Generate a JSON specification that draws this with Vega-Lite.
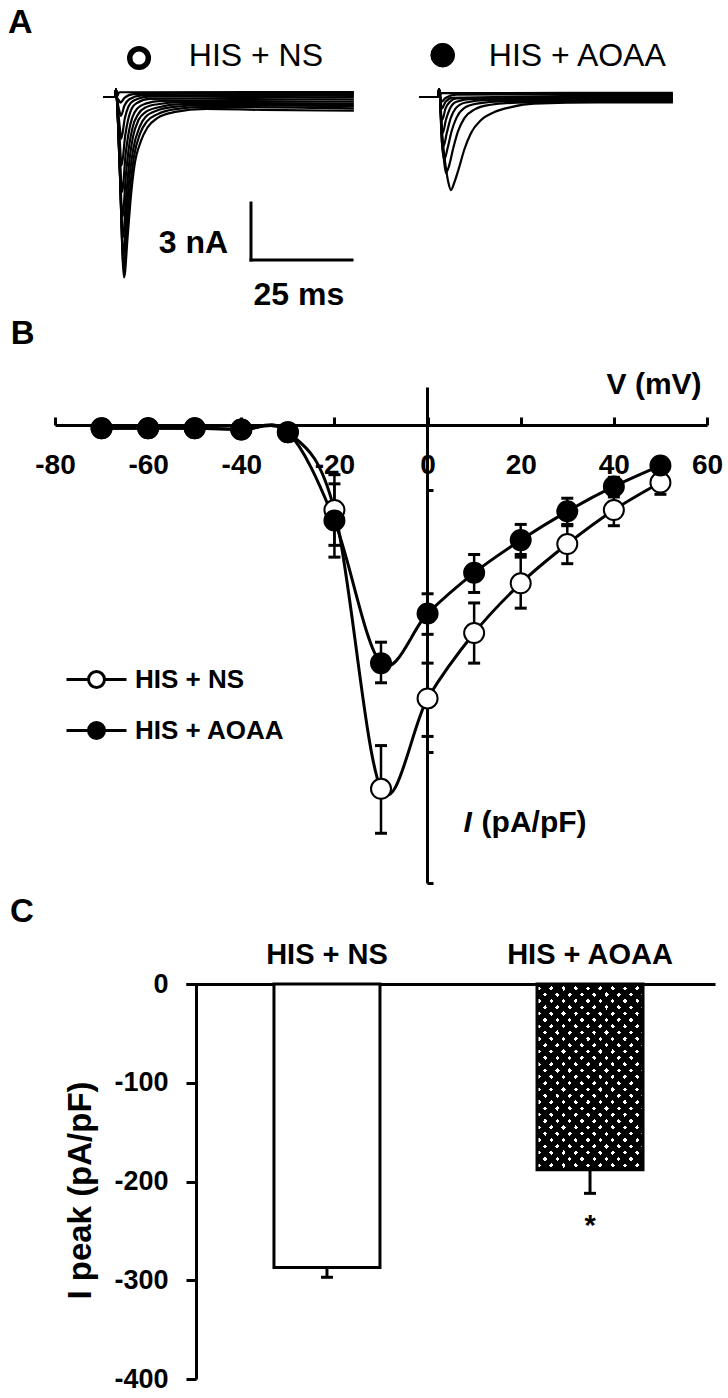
{
 "$schema": "https://vega.github.io/schema/vega-lite/v6.json",
 "padding": {"left": 7, "top": 0, "right": 0, "bottom": 0},
 "background": "white",
 "config": {
  "view": {"stroke": null},
  "font": "Liberation Sans",
  "axis": {"domainColor": "black", "tickColor": "black", "labelColor": "black", "titleColor": "black", "grid": false, "labelFont": "Liberation Sans", "titleFont": "Liberation Sans"},
  "legend": {"labelFont": "Liberation Sans"},
  "text": {"font": "Liberation Sans", "color": "black"},
  "title": {"font": "Liberation Sans", "color": "black"}
 },
 "datasets": {
  "traces": [
   {"g":"NS","k":1,"t":0.5,"i":0},{"g":"NS","k":1,"t":3.5,"i":0},{"g":"NS","k":1,"t":3.7,"i":0.4},{"g":"NS","k":1,"t":3.9,"i":0},{"g":"NS","k":1,"t":4.6,"i":-3.5},{"g":"NS","k":1,"t":5.7,"i":-9.5},{"g":"NS","k":1,"t":6.6,"i":-7.3},{"g":"NS","k":1,"t":7.4,"i":-5.2},{"g":"NS","k":1,"t":8.2,"i":-3.7},{"g":"NS","k":1,"t":9.9,"i":-2.3},{"g":"NS","k":1,"t":11.5,"i":-1.6},{"g":"NS","k":1,"t":14,"i":-1.1},{"g":"NS","k":1,"t":18,"i":-0.8},{"g":"NS","k":1,"t":26,"i":-0.62},{"g":"NS","k":1,"t":40,"i":-0.68},{"g":"NS","k":1,"t":62.5,"i":-0.72},
   {"g":"NS","k":2,"t":0.5,"i":0},{"g":"NS","k":2,"t":3.5,"i":0},{"g":"NS","k":2,"t":3.7,"i":0.4},{"g":"NS","k":2,"t":3.9,"i":0},{"g":"NS","k":2,"t":4.6,"i":-3.6},{"g":"NS","k":2,"t":5.6,"i":-9.0},{"g":"NS","k":2,"t":6.5,"i":-6.6},{"g":"NS","k":2,"t":7.3,"i":-4.6},{"g":"NS","k":2,"t":8.1,"i":-3.2},{"g":"NS","k":2,"t":9.7,"i":-1.9},{"g":"NS","k":2,"t":11.3,"i":-1.3},{"g":"NS","k":2,"t":14,"i":-0.9},{"g":"NS","k":2,"t":18,"i":-0.65},{"g":"NS","k":2,"t":26,"i":-0.52},{"g":"NS","k":2,"t":62.5,"i":-0.6},
   {"g":"NS","k":3,"t":0.5,"i":0},{"g":"NS","k":3,"t":3.5,"i":0},{"g":"NS","k":3,"t":3.7,"i":0.4},{"g":"NS","k":3,"t":3.9,"i":0},{"g":"NS","k":3,"t":4.6,"i":-3.6},{"g":"NS","k":3,"t":5.5,"i":-8.3},{"g":"NS","k":3,"t":6.4,"i":-5.8},{"g":"NS","k":3,"t":7.2,"i":-3.9},{"g":"NS","k":3,"t":8,"i":-2.7},{"g":"NS","k":3,"t":9.5,"i":-1.6},{"g":"NS","k":3,"t":11,"i":-1.05},{"g":"NS","k":3,"t":14,"i":-0.7},{"g":"NS","k":3,"t":18,"i":-0.52},{"g":"NS","k":3,"t":26,"i":-0.42},{"g":"NS","k":3,"t":62.5,"i":-0.48},
   {"g":"NS","k":4,"t":0.5,"i":0},{"g":"NS","k":4,"t":3.5,"i":0},{"g":"NS","k":4,"t":3.7,"i":0.4},{"g":"NS","k":4,"t":3.9,"i":0},{"g":"NS","k":4,"t":4.6,"i":-3.5},{"g":"NS","k":4,"t":5.4,"i":-7.4},{"g":"NS","k":4,"t":6.3,"i":-5.0},{"g":"NS","k":4,"t":7.1,"i":-3.2},{"g":"NS","k":4,"t":7.9,"i":-2.1},{"g":"NS","k":4,"t":9.3,"i":-1.2},{"g":"NS","k":4,"t":11,"i":-0.8},{"g":"NS","k":4,"t":14,"i":-0.55},{"g":"NS","k":4,"t":20,"i":-0.38},{"g":"NS","k":4,"t":62.5,"i":-0.36},
   {"g":"NS","k":5,"t":0.5,"i":0},{"g":"NS","k":5,"t":3.5,"i":0},{"g":"NS","k":5,"t":3.7,"i":0.4},{"g":"NS","k":5,"t":3.9,"i":0},{"g":"NS","k":5,"t":4.6,"i":-3.2},{"g":"NS","k":5,"t":5.3,"i":-6.3},{"g":"NS","k":5,"t":6.2,"i":-4.0},{"g":"NS","k":5,"t":7,"i":-2.5},{"g":"NS","k":5,"t":7.8,"i":-1.6},{"g":"NS","k":5,"t":9.2,"i":-0.9},{"g":"NS","k":5,"t":11,"i":-0.55},{"g":"NS","k":5,"t":14,"i":-0.38},{"g":"NS","k":5,"t":20,"i":-0.27},{"g":"NS","k":5,"t":62.5,"i":-0.24},
   {"g":"NS","k":6,"t":0.5,"i":0},{"g":"NS","k":6,"t":3.5,"i":0},{"g":"NS","k":6,"t":3.7,"i":0.4},{"g":"NS","k":6,"t":3.9,"i":0},{"g":"NS","k":6,"t":4.6,"i":-2.8},{"g":"NS","k":6,"t":5.2,"i":-5.0},{"g":"NS","k":6,"t":6.1,"i":-3.0},{"g":"NS","k":6,"t":6.9,"i":-1.8},{"g":"NS","k":6,"t":7.7,"i":-1.1},{"g":"NS","k":6,"t":9,"i":-0.6},{"g":"NS","k":6,"t":11,"i":-0.35},{"g":"NS","k":6,"t":15,"i":-0.2},{"g":"NS","k":6,"t":62.5,"i":-0.12},
   {"g":"NS","k":7,"t":0.5,"i":0},{"g":"NS","k":7,"t":3.5,"i":0},{"g":"NS","k":7,"t":3.7,"i":0.4},{"g":"NS","k":7,"t":3.9,"i":0},{"g":"NS","k":7,"t":4.6,"i":-2.2},{"g":"NS","k":7,"t":5.1,"i":-3.6},{"g":"NS","k":7,"t":6,"i":-2.0},{"g":"NS","k":7,"t":6.8,"i":-1.1},{"g":"NS","k":7,"t":7.6,"i":-0.6},{"g":"NS","k":7,"t":9,"i":-0.3},{"g":"NS","k":7,"t":12,"i":-0.1},{"g":"NS","k":7,"t":62.5,"i":0},
   {"g":"NS","k":8,"t":0.5,"i":0},{"g":"NS","k":8,"t":3.5,"i":0},{"g":"NS","k":8,"t":3.7,"i":0.4},{"g":"NS","k":8,"t":3.9,"i":0},{"g":"NS","k":8,"t":4.6,"i":-1.5},{"g":"NS","k":8,"t":5.0,"i":-2.2},{"g":"NS","k":8,"t":5.9,"i":-1.1},{"g":"NS","k":8,"t":6.8,"i":-0.5},{"g":"NS","k":8,"t":8,"i":-0.2},{"g":"NS","k":8,"t":12,"i":0.02},{"g":"NS","k":8,"t":62.5,"i":0.08},
   {"g":"NS","k":9,"t":0.5,"i":0},{"g":"NS","k":9,"t":3.5,"i":0},{"g":"NS","k":9,"t":3.7,"i":0.4},{"g":"NS","k":9,"t":3.9,"i":0},{"g":"NS","k":9,"t":4.5,"i":-0.7},{"g":"NS","k":9,"t":4.9,"i":-1.0},{"g":"NS","k":9,"t":5.8,"i":-0.45},{"g":"NS","k":9,"t":7,"i":-0.12},{"g":"NS","k":9,"t":10,"i":0.08},{"g":"NS","k":9,"t":62.5,"i":0.15},
   {"g":"NS","k":10,"t":0.5,"i":0},{"g":"NS","k":10,"t":3.5,"i":0},{"g":"NS","k":10,"t":3.7,"i":0.4},{"g":"NS","k":10,"t":3.9,"i":0},{"g":"NS","k":10,"t":4.5,"i":-0.2},{"g":"NS","k":10,"t":4.8,"i":-0.3},{"g":"NS","k":10,"t":5.8,"i":-0.05},{"g":"NS","k":10,"t":8,"i":0.15},{"g":"NS","k":10,"t":62.5,"i":0.22},
   {"g":"NS","k":11,"t":0.5,"i":0},{"g":"NS","k":11,"t":3.5,"i":0},{"g":"NS","k":11,"t":3.7,"i":0.4},{"g":"NS","k":11,"t":3.9,"i":0},{"g":"NS","k":11,"t":4.5,"i":0.25},{"g":"NS","k":11,"t":62.5,"i":0.26},
   {"g":"AO","k":1,"t":0.75,"i":0},{"g":"AO","k":1,"t":5.4,"i":0},{"g":"AO","k":1,"t":5.7,"i":0.42},{"g":"AO","k":1,"t":5.95,"i":0},{"g":"AO","k":1,"t":6.5,"i":-2.0},{"g":"AO","k":1,"t":7.3,"i":-3.6},{"g":"AO","k":1,"t":8.0,"i":-4.5},{"g":"AO","k":1,"t":8.65,"i":-4.9},{"g":"AO","k":1,"t":9.47,"i":-4.5},{"g":"AO","k":1,"t":10.7,"i":-3.68},{"g":"AO","k":1,"t":11.9,"i":-2.79},{"g":"AO","k":1,"t":13.6,"i":-1.89},{"g":"AO","k":1,"t":16.1,"i":-1.21},{"g":"AO","k":1,"t":19.4,"i":-0.79},{"g":"AO","k":1,"t":23.5,"i":-0.53},{"g":"AO","k":1,"t":29.2,"i":-0.35},{"g":"AO","k":1,"t":45,"i":-0.28},{"g":"AO","k":1,"t":63.5,"i":-0.28},
   {"g":"AO","k":2,"t":0.75,"i":0},{"g":"AO","k":2,"t":5.4,"i":0},{"g":"AO","k":2,"t":5.7,"i":0.42},{"g":"AO","k":2,"t":5.95,"i":0},{"g":"AO","k":2,"t":6.3,"i":-2.0},{"g":"AO","k":2,"t":6.9,"i":-3.3},{"g":"AO","k":2,"t":7.4,"i":-4.0},{"g":"AO","k":2,"t":8.2,"i":-3.6},{"g":"AO","k":2,"t":9.2,"i":-2.7},{"g":"AO","k":2,"t":10.4,"i":-1.8},{"g":"AO","k":2,"t":12,"i":-1.1},{"g":"AO","k":2,"t":14.5,"i":-0.65},{"g":"AO","k":2,"t":18,"i":-0.42},{"g":"AO","k":2,"t":25,"i":-0.3},{"g":"AO","k":2,"t":63.5,"i":-0.22},
   {"g":"AO","k":3,"t":0.75,"i":0},{"g":"AO","k":3,"t":5.4,"i":0},{"g":"AO","k":3,"t":5.7,"i":0.42},{"g":"AO","k":3,"t":5.95,"i":0},{"g":"AO","k":3,"t":6.3,"i":-2.0},{"g":"AO","k":3,"t":7.0,"i":-3.3},{"g":"AO","k":3,"t":7.8,"i":-2.7},{"g":"AO","k":3,"t":8.8,"i":-1.8},{"g":"AO","k":3,"t":10,"i":-1.1},{"g":"AO","k":3,"t":11.8,"i":-0.6},{"g":"AO","k":3,"t":15,"i":-0.35},{"g":"AO","k":3,"t":22,"i":-0.22},{"g":"AO","k":3,"t":63.5,"i":-0.16},
   {"g":"AO","k":4,"t":0.75,"i":0},{"g":"AO","k":4,"t":5.4,"i":0},{"g":"AO","k":4,"t":5.7,"i":0.42},{"g":"AO","k":4,"t":5.95,"i":0},{"g":"AO","k":4,"t":6.3,"i":-1.7},{"g":"AO","k":4,"t":6.8,"i":-2.6},{"g":"AO","k":4,"t":7.6,"i":-1.9},{"g":"AO","k":4,"t":8.6,"i":-1.1},{"g":"AO","k":4,"t":9.8,"i":-0.6},{"g":"AO","k":4,"t":12,"i":-0.3},{"g":"AO","k":4,"t":18,"i":-0.15},{"g":"AO","k":4,"t":63.5,"i":-0.1},
   {"g":"AO","k":5,"t":0.75,"i":0},{"g":"AO","k":5,"t":5.4,"i":0},{"g":"AO","k":5,"t":5.7,"i":0.42},{"g":"AO","k":5,"t":5.95,"i":0},{"g":"AO","k":5,"t":6.2,"i":-1.2},{"g":"AO","k":5,"t":6.6,"i":-1.9},{"g":"AO","k":5,"t":7.4,"i":-1.2},{"g":"AO","k":5,"t":8.4,"i":-0.6},{"g":"AO","k":5,"t":10,"i":-0.25},{"g":"AO","k":5,"t":14,"i":-0.1},{"g":"AO","k":5,"t":63.5,"i":-0.04},
   {"g":"AO","k":6,"t":0.75,"i":0},{"g":"AO","k":6,"t":5.4,"i":0},{"g":"AO","k":6,"t":5.7,"i":0.42},{"g":"AO","k":6,"t":5.95,"i":0},{"g":"AO","k":6,"t":6.1,"i":-0.8},{"g":"AO","k":6,"t":6.5,"i":-1.2},{"g":"AO","k":6,"t":7.3,"i":-0.6},{"g":"AO","k":6,"t":8.4,"i":-0.25},{"g":"AO","k":6,"t":10,"i":-0.08},{"g":"AO","k":6,"t":63.5,"i":0.03},
   {"g":"AO","k":7,"t":0.75,"i":0},{"g":"AO","k":7,"t":5.4,"i":0},{"g":"AO","k":7,"t":5.7,"i":0.42},{"g":"AO","k":7,"t":5.95,"i":0},{"g":"AO","k":7,"t":6.4,"i":-0.6},{"g":"AO","k":7,"t":7.3,"i":-0.25},{"g":"AO","k":7,"t":9,"i":-0.05},{"g":"AO","k":7,"t":63.5,"i":0.1},
   {"g":"AO","k":8,"t":0.75,"i":0},{"g":"AO","k":8,"t":5.4,"i":0},{"g":"AO","k":8,"t":5.7,"i":0.42},{"g":"AO","k":8,"t":5.95,"i":0},{"g":"AO","k":8,"t":6.3,"i":-0.25},{"g":"AO","k":8,"t":7.3,"i":-0.05},{"g":"AO","k":8,"t":10,"i":0.12},{"g":"AO","k":8,"t":63.5,"i":0.16},
   {"g":"AO","k":9,"t":0.75,"i":0},{"g":"AO","k":9,"t":5.4,"i":0},{"g":"AO","k":9,"t":5.7,"i":0.42},{"g":"AO","k":9,"t":5.95,"i":0},{"g":"AO","k":9,"t":6.2,"i":0.2},{"g":"AO","k":9,"t":63.5,"i":0.22}
  ],
  "iv": [
   {"s":"HIS + NS","v":-70,"m":-2.5},{"s":"HIS + NS","v":-60,"m":-2.5},{"s":"HIS + NS","v":-50,"m":-2.5},{"s":"HIS + NS","v":-40,"m":-3.5},{"s":"HIS + NS","v":-30,"m":-5.5},
   {"s":"HIS + NS","v":-20,"m":-65,"lo":-92,"hi":-38},{"s":"HIS + NS","v":-10,"m":-278,"lo":-312,"hi":-245},{"s":"HIS + NS","v":0,"m":-209,"lo":-238,"hi":-182},{"s":"HIS + NS","v":10,"m":-159,"lo":-182,"hi":-136},{"s":"HIS + NS","v":20,"m":-121,"lo":-140,"hi":-101},{"s":"HIS + NS","v":30,"m":-91,"lo":-106,"hi":-76},{"s":"HIS + NS","v":40,"m":-65,"lo":-77,"hi":-53},{"s":"HIS + NS","v":50,"m":-44,"lo":-53,"hi":-35},
   {"s":"HIS + AOAA","v":-70,"m":-2.5},{"s":"HIS + AOAA","v":-60,"m":-2.5},{"s":"HIS + AOAA","v":-50,"m":-2.5},{"s":"HIS + AOAA","v":-40,"m":-3.5},{"s":"HIS + AOAA","v":-30,"m":-5.5},
   {"s":"HIS + AOAA","v":-20,"m":-73,"lo":-101,"hi":-45},{"s":"HIS + AOAA","v":-10,"m":-182,"lo":-197,"hi":-166},{"s":"HIS + AOAA","v":0,"m":-144,"lo":-160,"hi":-129},{"s":"HIS + AOAA","v":10,"m":-113,"lo":-128,"hi":-99},{"s":"HIS + AOAA","v":20,"m":-88,"lo":-99,"hi":-76},{"s":"HIS + AOAA","v":30,"m":-66,"lo":-77,"hi":-56},{"s":"HIS + AOAA","v":40,"m":-47,"lo":-55,"hi":-40},{"s":"HIS + AOAA","v":50,"m":-31,"lo":-36,"hi":-27}
  ],
  "peak": [
   {"g":"HIS + NS","m":-287,"lo":-297,"sig":""},
   {"g":"HIS + AOAA","m":-188,"lo":-212,"sig":"*"}
  ]
 },
 "spacing": 0,
 "bounds": "flush",
 "vconcat": [
  {
   "width": 624, "height": 387,
   "resolve": {"scale": {"x": "independent"}},
   "layer": [
    {
     "layer": [
      {"data": {"name": "traces"}, "transform": [{"filter": "datum.g === 'NS'"}],
       "mark": {"type": "line", "interpolate": "monotone", "stroke": "black", "strokeWidth": 2.2},
       "encoding": {
        "x": {"field": "t", "type": "quantitative", "scale": {"domain": [0, 64.26], "range": [46, 306], "nice": false, "zero": false}, "axis": null},
        "y": {"field": "i", "type": "quantitative", "scale": {"domain": [-15.263, 5.105], "nice": false, "zero": false}, "axis": null},
        "detail": {"field": "k"}}},
      {"data": {"values": [{}]},
       "mark": {"type": "point", "shape": "circle", "filled": false, "stroke": "black", "strokeWidth": 5.5, "size": 346, "opacity": 1},
       "encoding": {"x": {"datum": 9.4, "axis": null}, "y": {"datum": 2.05, "axis": null}}},
      {"data": {"values": [{}]},
       "mark": {"type": "text", "text": "HIS + NS", "align": "left", "baseline": "middle", "fontSize": 32},
       "encoding": {"x": {"datum": 21.7, "axis": null}, "y": {"datum": 2.16, "axis": null}}},
      {"data": {"values": [{}]},
       "mark": {"type": "rule", "stroke": "black", "strokeWidth": 3, "strokeCap": "square"},
       "encoding": {"x": {"datum": 37.07, "axis": null}, "y": {"datum": -5.58, "axis": null}, "y2": {"datum": -8.58}}},
      {"data": {"values": [{}]},
       "mark": {"type": "rule", "stroke": "black", "strokeWidth": 3, "strokeCap": "square"},
       "encoding": {"x": {"datum": 37.07, "axis": null}, "x2": {"datum": 62.04}, "y": {"datum": -8.58, "axis": null}}},
      {"data": {"values": [{}]},
       "mark": {"type": "text", "text": "3 nA", "align": "right", "baseline": "middle", "fontSize": 32, "fontWeight": "bold"},
       "encoding": {"x": {"datum": 31.4, "axis": null}, "y": {"datum": -7.68, "axis": null}}},
      {"data": {"values": [{}]},
       "mark": {"type": "text", "text": "25 ms", "align": "center", "baseline": "middle", "fontSize": 32, "fontWeight": "bold"},
       "encoding": {"x": {"datum": 48.9, "axis": null}, "y": {"datum": -10.42, "axis": null}}},
      {"data": {"values": [{}]},
       "mark": {"type": "text", "text": "A", "align": "left", "baseline": "middle", "fontSize": 34, "fontWeight": "bold"},
       "encoding": {"x": {"datum": -22.99, "axis": null}, "y": {"datum": 3.92, "axis": null}}}
     ]
    },
    {
     "layer": [
      {"data": {"name": "traces"}, "transform": [{"filter": "datum.g === 'AO'"}],
       "mark": {"type": "line", "interpolate": "monotone", "stroke": "black", "strokeWidth": 2.2},
       "encoding": {
        "x": {"field": "t", "type": "quantitative", "scale": {"domain": [0, 65], "range": [361, 624], "nice": false, "zero": false}, "axis": null},
        "y": {"field": "i", "type": "quantitative", "axis": null},
        "detail": {"field": "k"}}},
      {"data": {"values": [{}]},
       "mark": {"type": "point", "shape": "circle", "filled": true, "fill": "black", "stroke": "black", "strokeWidth": 1, "size": 560, "opacity": 1},
       "encoding": {"x": {"datum": 6.6, "axis": null}, "y": {"datum": 2.2, "axis": null}}},
      {"data": {"values": [{}]},
       "mark": {"type": "text", "text": "HIS + AOAA", "align": "left", "baseline": "middle", "fontSize": 32},
       "encoding": {"x": {"datum": 18.0, "axis": null}, "y": {"datum": 2.16, "axis": null}}}
     ]
    }
   ]
  },
  {
   "width": 652, "height": 496,
   "data": {"name": "iv"},
   "layer": [
    {"mark": {"type": "line", "interpolate": "cardinal", "stroke": "black", "strokeWidth": 3},
     "encoding": {
      "x": {"field": "v", "type": "quantitative", "scale": {"domain": [-80, 60], "nice": false, "zero": false},
            "axis": {"orient": "bottom", "offset": -458, "values": [-80, -60, -40, -20, 0, 20, 40, 60], "tickSize": -8, "tickWidth": 3, "domainWidth": 3, "labelPadding": 34, "labelFontSize": 28, "labelFontWeight": "bold", "labelFlush": false, "labelOverlap": false, "labelExpr": "replace(datum.label, '\u2212', '-')", "title": null}},
      "y": {"field": "m", "type": "quantitative", "scale": {"domain": [-350, 29], "nice": false, "zero": false},
            "axis": {"orient": "right", "offset": -280, "values": [-50, -150, -250, -350], "tickSize": 6, "tickWidth": 3, "domainWidth": 3, "labels": false, "title": null}},
      "detail": {"field": "s"}}},
    {"mark": {"type": "rule", "stroke": "black", "strokeWidth": 2.5},
     "encoding": {"x": {"field": "v", "type": "quantitative", "title": null}, "y": {"field": "lo", "type": "quantitative", "title": null}, "y2": {"field": "hi"}}},
    {"mark": {"type": "tick", "orient": "horizontal", "size": 12, "thickness": 3, "color": "black", "opacity": 1},
     "encoding": {"x": {"field": "v", "type": "quantitative", "title": null}, "y": {"field": "lo", "type": "quantitative", "title": null}}},
    {"mark": {"type": "tick", "orient": "horizontal", "size": 12, "thickness": 3, "color": "black", "opacity": 1},
     "encoding": {"x": {"field": "v", "type": "quantitative", "title": null}, "y": {"field": "hi", "type": "quantitative", "title": null}}},
    {"mark": {"type": "point", "shape": "circle", "filled": true, "size": 400, "stroke": "black", "strokeWidth": 2, "opacity": 1},
     "encoding": {
      "x": {"field": "v", "type": "quantitative", "title": null},
      "y": {"field": "m", "type": "quantitative", "title": null},
      "fill": {"field": "s", "type": "nominal", "scale": {"domain": ["HIS + NS", "HIS + AOAA"], "range": ["white", "black"]},
               "legend": {"orient": "none", "legendX": 25, "legendY": 663, "title": null, "padding": 0,
                          "symbolType": "M-2,0H-0.533M0.533,0H2M0.533,0A0.533,0.533,0,1,1,-0.533,0A0.533,0.533,0,1,1,0.533,0Z",
                          "symbolSize": 900, "symbolStrokeColor": "black", "symbolStrokeWidth": 3,
                          "labelFontSize": 26, "labelFontWeight": "bold", "labelOffset": 22, "rowPadding": 20, "labelColor": "black",
                          "encode": {"symbols": {"update": {"stroke": {"value": "black"}, "strokeWidth": {"value": 3}, "opacity": {"value": 1}}}}}}}},
    {"data": {"values": [{}]},
     "mark": {"type": "text", "text": "V (mV)", "align": "right", "baseline": "middle", "fontSize": 30, "fontWeight": "bold"},
     "encoding": {"x": {"datum": 58.84, "title": null}, "y": {"datum": 30.6, "title": null}}},
    {"data": {"values": [{}]},
     "mark": {"type": "text", "text": "I", "align": "left", "baseline": "middle", "fontSize": 30, "fontWeight": "bold", "fontStyle": "italic"},
     "encoding": {"x": {"datum": 7.73, "title": null}, "y": {"datum": -304, "title": null}}},
    {"data": {"values": [{}]},
     "mark": {"type": "text", "text": "(pA/pF)", "align": "left", "baseline": "middle", "fontSize": 30, "fontWeight": "bold"},
     "encoding": {"x": {"datum": 11.6, "title": null}, "y": {"datum": -304, "title": null}}},
    {"data": {"values": [{}]},
     "mark": {"type": "text", "text": "B", "align": "left", "baseline": "middle", "fontSize": 33, "fontWeight": "bold"},
     "encoding": {"x": {"datum": -89.5, "title": null}, "y": {"datum": 69.5, "title": null}}}
   ]
  },
  {
   "width": 660, "height": 496,
   "title": {"text": "C", "anchor": "start", "frame": "group", "dx": -45, "offset": -62, "baseline": "middle", "fontSize": 33, "fontWeight": "bold", "color": "black"},
   "data": {"name": "peak"},
   "layer": [
    {"transform": [{"filter": "datum.g === 'HIS + NS'"}],
     "mark": {"type": "bar", "fill": "white", "stroke": "black", "strokeWidth": 3},
     "encoding": {
      "x": {"field": "g", "type": "nominal", "sort": null, "title": null,
            "scale": {"domain": ["HIS + NS", "HIS + AOAA"], "range": [131, 660], "paddingInner": 0.597, "paddingOuter": 0.304, "align": 0.55},
            "axis": {"orient": "top", "offset": -101, "ticks": false, "domainWidth": 3, "labelFontSize": 29, "labelFontWeight": "bold", "labelPadding": 15, "labelAngle": 0}},
      "y": {"field": "m", "type": "quantitative", "title": "I peak (pA/pF)",
            "scale": {"domain": [-400, 0], "range": [496, 101], "nice": false},
            "axis": {"orient": "left", "offset": -141, "values": [0, -100, -200, -300, -400], "tickSize": 10, "tickWidth": 3, "domainWidth": 3, "labelFontSize": 27, "labelFontWeight": "bold", "labelPadding": 18, "labelOverlap": false, "labelExpr": "replace(datum.label, '\u2212', '-')", "titleFontSize": 33, "titleFontWeight": "bold", "titlePadding": 16, "titleY": 307}}}},
    {"transform": [{"filter": "datum.g === 'HIS + AOAA'"}],
     "mark": {"type": "bar", "strokeWidth": 0,
      "fill": {"gradient": "linear", "x1": 0, "y1": 0, "x2": 0.6936, "y2": 1.18, "stops": [
       {"offset":0,"color":"black"},
       {"offset":0.01394,"color":"black"},{"offset":0.01394,"color":"white"},{"offset":0.02896,"color":"white"},{"offset":0.02896,"color":"black"},
       {"offset":0.05683,"color":"black"},{"offset":0.05683,"color":"white"},{"offset":0.07184,"color":"white"},{"offset":0.07184,"color":"black"},
       {"offset":0.09972,"color":"black"},{"offset":0.09972,"color":"white"},{"offset":0.11473,"color":"white"},{"offset":0.11473,"color":"black"},
       {"offset":0.14261,"color":"black"},{"offset":0.14261,"color":"white"},{"offset":0.15763,"color":"white"},{"offset":0.15763,"color":"black"},
       {"offset":0.18551,"color":"black"},{"offset":0.18551,"color":"white"},{"offset":0.20052,"color":"white"},{"offset":0.20052,"color":"black"},
       {"offset":0.22839,"color":"black"},{"offset":0.22839,"color":"white"},{"offset":0.24341,"color":"white"},{"offset":0.24341,"color":"black"},
       {"offset":0.27129,"color":"black"},{"offset":0.27129,"color":"white"},{"offset":0.28630,"color":"white"},{"offset":0.28630,"color":"black"},
       {"offset":0.31418,"color":"black"},{"offset":0.31418,"color":"white"},{"offset":0.32919,"color":"white"},{"offset":0.32919,"color":"black"},
       {"offset":0.35707,"color":"black"},{"offset":0.35707,"color":"white"},{"offset":0.37208,"color":"white"},{"offset":0.37208,"color":"black"},
       {"offset":0.39996,"color":"black"},{"offset":0.39996,"color":"white"},{"offset":0.41497,"color":"white"},{"offset":0.41497,"color":"black"},
       {"offset":0.44285,"color":"black"},{"offset":0.44285,"color":"white"},{"offset":0.45786,"color":"white"},{"offset":0.45786,"color":"black"},
       {"offset":0.48574,"color":"black"},{"offset":0.48574,"color":"white"},{"offset":0.50075,"color":"white"},{"offset":0.50075,"color":"black"},
       {"offset":0.52863,"color":"black"},{"offset":0.52863,"color":"white"},{"offset":0.54364,"color":"white"},{"offset":0.54364,"color":"black"},
       {"offset":0.57152,"color":"black"},{"offset":0.57152,"color":"white"},{"offset":0.58653,"color":"white"},{"offset":0.58653,"color":"black"},
       {"offset":0.61441,"color":"black"},{"offset":0.61441,"color":"white"},{"offset":0.62943,"color":"white"},{"offset":0.62943,"color":"black"},
       {"offset":0.65730,"color":"black"},{"offset":0.65730,"color":"white"},{"offset":0.67232,"color":"white"},{"offset":0.67232,"color":"black"},
       {"offset":0.70019,"color":"black"},{"offset":0.70019,"color":"white"},{"offset":0.71521,"color":"white"},{"offset":0.71521,"color":"black"},
       {"offset":0.74309,"color":"black"},{"offset":0.74309,"color":"white"},{"offset":0.75810,"color":"white"},{"offset":0.75810,"color":"black"},
       {"offset":0.78598,"color":"black"},{"offset":0.78598,"color":"white"},{"offset":0.80099,"color":"white"},{"offset":0.80099,"color":"black"},
       {"offset":0.82887,"color":"black"},{"offset":0.82887,"color":"white"},{"offset":0.84388,"color":"white"},{"offset":0.84388,"color":"black"},
       {"offset":0.87176,"color":"black"},{"offset":0.87176,"color":"white"},{"offset":0.88677,"color":"white"},{"offset":0.88677,"color":"black"},
       {"offset":0.91465,"color":"black"},{"offset":0.91465,"color":"white"},{"offset":0.92966,"color":"white"},{"offset":0.92966,"color":"black"},
       {"offset":0.95754,"color":"black"},{"offset":0.95754,"color":"white"},{"offset":0.97255,"color":"white"},{"offset":0.97255,"color":"black"},
       {"offset":1,"color":"black"}]}},
     "encoding": {"x": {"field": "g", "type": "nominal", "title": null}, "y": {"field": "m", "type": "quantitative", "title": "I peak (pA/pF)"}}},
    {"transform": [{"filter": "datum.g === 'HIS + AOAA'"}],
     "mark": {"type": "bar", "stroke": "black", "strokeWidth": 3,
      "fill": {"gradient": "linear", "x1": 0, "y1": 1, "x2": 0.6936, "y2": -0.18, "stops": [
       {"offset":0,"color":"black"},
       {"offset":0.01394,"color":"black"},{"offset":0.01394,"color":"rgba(0,0,0,0)"},{"offset":0.02896,"color":"rgba(0,0,0,0)"},{"offset":0.02896,"color":"black"},
       {"offset":0.05683,"color":"black"},{"offset":0.05683,"color":"rgba(0,0,0,0)"},{"offset":0.07184,"color":"rgba(0,0,0,0)"},{"offset":0.07184,"color":"black"},
       {"offset":0.09972,"color":"black"},{"offset":0.09972,"color":"rgba(0,0,0,0)"},{"offset":0.11473,"color":"rgba(0,0,0,0)"},{"offset":0.11473,"color":"black"},
       {"offset":0.14261,"color":"black"},{"offset":0.14261,"color":"rgba(0,0,0,0)"},{"offset":0.15763,"color":"rgba(0,0,0,0)"},{"offset":0.15763,"color":"black"},
       {"offset":0.18551,"color":"black"},{"offset":0.18551,"color":"rgba(0,0,0,0)"},{"offset":0.20052,"color":"rgba(0,0,0,0)"},{"offset":0.20052,"color":"black"},
       {"offset":0.22839,"color":"black"},{"offset":0.22839,"color":"rgba(0,0,0,0)"},{"offset":0.24341,"color":"rgba(0,0,0,0)"},{"offset":0.24341,"color":"black"},
       {"offset":0.27129,"color":"black"},{"offset":0.27129,"color":"rgba(0,0,0,0)"},{"offset":0.28630,"color":"rgba(0,0,0,0)"},{"offset":0.28630,"color":"black"},
       {"offset":0.31418,"color":"black"},{"offset":0.31418,"color":"rgba(0,0,0,0)"},{"offset":0.32919,"color":"rgba(0,0,0,0)"},{"offset":0.32919,"color":"black"},
       {"offset":0.35707,"color":"black"},{"offset":0.35707,"color":"rgba(0,0,0,0)"},{"offset":0.37208,"color":"rgba(0,0,0,0)"},{"offset":0.37208,"color":"black"},
       {"offset":0.39996,"color":"black"},{"offset":0.39996,"color":"rgba(0,0,0,0)"},{"offset":0.41497,"color":"rgba(0,0,0,0)"},{"offset":0.41497,"color":"black"},
       {"offset":0.44285,"color":"black"},{"offset":0.44285,"color":"rgba(0,0,0,0)"},{"offset":0.45786,"color":"rgba(0,0,0,0)"},{"offset":0.45786,"color":"black"},
       {"offset":0.48574,"color":"black"},{"offset":0.48574,"color":"rgba(0,0,0,0)"},{"offset":0.50075,"color":"rgba(0,0,0,0)"},{"offset":0.50075,"color":"black"},
       {"offset":0.52863,"color":"black"},{"offset":0.52863,"color":"rgba(0,0,0,0)"},{"offset":0.54364,"color":"rgba(0,0,0,0)"},{"offset":0.54364,"color":"black"},
       {"offset":0.57152,"color":"black"},{"offset":0.57152,"color":"rgba(0,0,0,0)"},{"offset":0.58653,"color":"rgba(0,0,0,0)"},{"offset":0.58653,"color":"black"},
       {"offset":0.61441,"color":"black"},{"offset":0.61441,"color":"rgba(0,0,0,0)"},{"offset":0.62943,"color":"rgba(0,0,0,0)"},{"offset":0.62943,"color":"black"},
       {"offset":0.65730,"color":"black"},{"offset":0.65730,"color":"rgba(0,0,0,0)"},{"offset":0.67232,"color":"rgba(0,0,0,0)"},{"offset":0.67232,"color":"black"},
       {"offset":0.70019,"color":"black"},{"offset":0.70019,"color":"rgba(0,0,0,0)"},{"offset":0.71521,"color":"rgba(0,0,0,0)"},{"offset":0.71521,"color":"black"},
       {"offset":0.74309,"color":"black"},{"offset":0.74309,"color":"rgba(0,0,0,0)"},{"offset":0.75810,"color":"rgba(0,0,0,0)"},{"offset":0.75810,"color":"black"},
       {"offset":0.78598,"color":"black"},{"offset":0.78598,"color":"rgba(0,0,0,0)"},{"offset":0.80099,"color":"rgba(0,0,0,0)"},{"offset":0.80099,"color":"black"},
       {"offset":0.82887,"color":"black"},{"offset":0.82887,"color":"rgba(0,0,0,0)"},{"offset":0.84388,"color":"rgba(0,0,0,0)"},{"offset":0.84388,"color":"black"},
       {"offset":0.87176,"color":"black"},{"offset":0.87176,"color":"rgba(0,0,0,0)"},{"offset":0.88677,"color":"rgba(0,0,0,0)"},{"offset":0.88677,"color":"black"},
       {"offset":0.91465,"color":"black"},{"offset":0.91465,"color":"rgba(0,0,0,0)"},{"offset":0.92966,"color":"rgba(0,0,0,0)"},{"offset":0.92966,"color":"black"},
       {"offset":0.95754,"color":"black"},{"offset":0.95754,"color":"rgba(0,0,0,0)"},{"offset":0.97255,"color":"rgba(0,0,0,0)"},{"offset":0.97255,"color":"black"},
       {"offset":1,"color":"black"}]}},
     "encoding": {"x": {"field": "g", "type": "nominal", "title": null}, "y": {"field": "m", "type": "quantitative", "title": "I peak (pA/pF)"}}},
    {"mark": {"type": "rule", "stroke": "black", "strokeWidth": 3},
     "encoding": {"x": {"field": "g", "type": "nominal", "title": null}, "y": {"field": "m", "type": "quantitative", "title": "I peak (pA/pF)"}, "y2": {"field": "lo"}}},
    {"mark": {"type": "tick", "orient": "horizontal", "size": 12, "thickness": 3, "color": "black", "opacity": 1},
     "encoding": {"x": {"field": "g", "type": "nominal", "title": null}, "y": {"field": "lo", "type": "quantitative", "title": "I peak (pA/pF)"}}},
    {"mark": {"type": "text", "align": "center", "baseline": "alphabetic", "dy": 42, "fontSize": 29, "fontWeight": "bold"},
     "encoding": {"x": {"field": "g", "type": "nominal", "title": null}, "y": {"field": "lo", "type": "quantitative", "title": "I peak (pA/pF)"}, "text": {"field": "sig"}}}
   ]
  }
 ]
}
